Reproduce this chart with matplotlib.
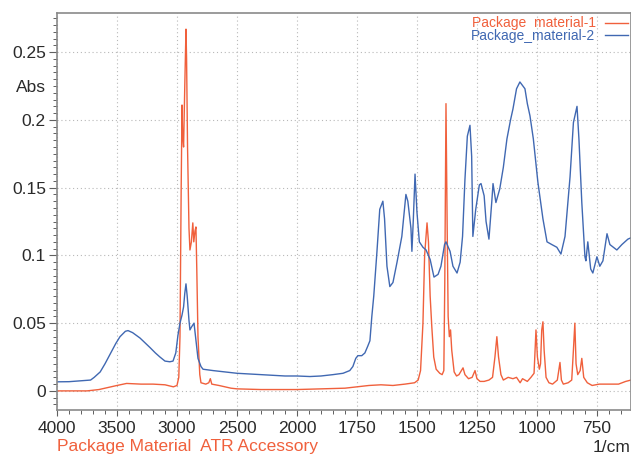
import numpy as np
import matplotlib
matplotlib.use("Agg")
import matplotlib.pyplot as plt
from matplotlib.ticker import FixedLocator, FixedFormatter

plt.rcParams["font.family"] = ["Liberation Sans", "DejaVu Sans"]

# spectrum 1 (orange) : wavenumber [1/cm], absorbance
wn_1 = [4000, 3900, 3750, 3650, 3600, 3500, 3420, 3300, 3200, 3100, 3030, 3000,
        2985, 2975, 2965, 2958, 2953, 2945, 2935, 2925, 2920, 2912, 2900, 2892,
        2880, 2868, 2860, 2850, 2842, 2835, 2825, 2810, 2800, 2760, 2735, 2722,
        2710, 2650, 2600, 2550, 2500, 2300, 2000, 1900, 1800, 1750, 1700, 1650,
        1600, 1550, 1510, 1495, 1485, 1475, 1468, 1458, 1452, 1445, 1438, 1430,
        1420, 1405, 1395, 1388, 1384, 1379, 1374, 1370, 1365, 1360, 1355, 1345,
        1335, 1325, 1308, 1300, 1285, 1270, 1258, 1250, 1237, 1220, 1200, 1185,
        1175, 1167, 1160, 1150, 1140, 1120, 1100, 1085, 1070, 1060, 1040, 1025,
        1012, 1004, 998, 990, 985, 980, 975, 970, 962, 950, 935, 915, 904, 898,
        890, 870, 855, 848, 842, 837, 830, 820, 813, 805, 790, 770, 740, 700,
        660, 630, 608]
abs_1 = [0.000, 0.000, 0.000, 0.001, 0.002, 0.004, 0.0055, 0.005, 0.005, 0.0045, 0.003, 0.004,
         0.010, 0.040, 0.150, 0.211, 0.188, 0.180, 0.225, 0.267, 0.245, 0.180, 0.120, 0.104,
         0.110, 0.124, 0.110, 0.118, 0.121, 0.090, 0.040, 0.012, 0.006, 0.005, 0.006, 0.009,
         0.005, 0.004, 0.003, 0.002, 0.0015, 0.001, 0.001, 0.0015, 0.002, 0.003, 0.004, 0.0045,
         0.004, 0.005, 0.006, 0.008, 0.015, 0.050, 0.100, 0.124, 0.110, 0.070, 0.047, 0.025,
         0.016, 0.013, 0.012, 0.015, 0.080, 0.212, 0.120, 0.055, 0.040, 0.045, 0.030, 0.014,
         0.011, 0.012, 0.017, 0.012, 0.009, 0.010, 0.015, 0.009, 0.007, 0.007, 0.008, 0.010,
         0.025, 0.040, 0.025, 0.012, 0.008, 0.010, 0.009, 0.010, 0.006, 0.009, 0.007, 0.010,
         0.013, 0.045, 0.025, 0.016, 0.020, 0.045, 0.051, 0.030, 0.010, 0.006, 0.005, 0.008, 0.021, 0.008,
         0.005, 0.006, 0.008, 0.030, 0.050, 0.020, 0.012, 0.015, 0.024, 0.010, 0.006, 0.004, 0.005, 0.005,
         0.005, 0.007, 0.008]

# spectrum 2 (blue)
wn_2 = [4000, 3900, 3800, 3720, 3690, 3640, 3600, 3558, 3510, 3475, 3430, 3408,
        3370, 3308, 3260, 3225, 3180, 3142, 3100, 3060, 3033, 3010, 2992, 2975,
        2958, 2945, 2935, 2925, 2915, 2900, 2892, 2880, 2858, 2845, 2825, 2800,
        2783, 2700, 2600, 2500, 2400, 2300, 2200, 2100, 2000, 1946, 1900, 1850,
        1808, 1780, 1767, 1755, 1746, 1730, 1717, 1705, 1696, 1688, 1680, 1667,
        1655, 1642, 1635, 1625, 1613, 1600, 1583, 1563, 1546, 1538, 1525, 1521,
        1515, 1508, 1500, 1490, 1475, 1462, 1445, 1429, 1412, 1400, 1385, 1379,
        1362, 1350, 1333, 1320, 1310, 1300, 1290, 1279, 1272, 1267, 1255, 1240,
        1233, 1220, 1212, 1200, 1188, 1183, 1171, 1155, 1140, 1125, 1110, 1100,
        1085, 1071, 1050, 1040, 1029, 1015, 996, 975, 958, 938, 917, 900, 883,
        862, 848, 833, 825, 813, 800, 796, 788, 776, 767, 750, 738, 725, 708,
        696, 667, 646, 621, 608]
abs_2 = [0.0067, 0.0068, 0.0075, 0.008, 0.010, 0.014, 0.020, 0.027, 0.035, 0.040, 0.044, 0.0445,
         0.043, 0.039, 0.035, 0.032, 0.028, 0.025, 0.022, 0.0215, 0.022, 0.028, 0.041, 0.050,
         0.056, 0.062, 0.072, 0.079, 0.070, 0.052, 0.045, 0.047, 0.050, 0.040, 0.024, 0.018,
         0.016, 0.015, 0.014, 0.013, 0.0125, 0.012, 0.0115, 0.011, 0.011, 0.0106, 0.011, 0.012,
         0.013, 0.015, 0.018, 0.024, 0.026, 0.026, 0.028, 0.033, 0.037, 0.055, 0.070, 0.102,
         0.134, 0.140, 0.127, 0.092, 0.077, 0.080, 0.095, 0.114, 0.145, 0.140, 0.120, 0.103,
         0.127, 0.160, 0.132, 0.110, 0.106, 0.104, 0.097, 0.084, 0.086, 0.092, 0.108, 0.110,
         0.103, 0.092, 0.087, 0.095, 0.114, 0.156, 0.188, 0.196, 0.173, 0.114, 0.134, 0.152,
         0.153, 0.144, 0.125, 0.112, 0.140, 0.153, 0.139, 0.149, 0.165, 0.186, 0.200, 0.208,
         0.223, 0.228, 0.223, 0.212, 0.203, 0.186, 0.154, 0.127, 0.110, 0.108, 0.106, 0.101, 0.114,
         0.158, 0.198, 0.210, 0.186, 0.139, 0.099, 0.096, 0.110, 0.090, 0.087, 0.099, 0.092, 0.096, 0.116,
         0.108, 0.104, 0.108, 0.112, 0.113]

labels = ["Package  material-1", "Package_material-2"]
colors = ["#f0603c", "#4068b2"]
x_major = [4000, 3500, 3000, 2500, 2000, 1750, 1500, 1250, 1000, 750]
y_major = [0, 0.05, 0.1, 0.15, 0.2, 0.25]
y_labels = ["0", "0.05", "0.1", "0.15", "0.2", "0.25"]


# the instrument compresses 4000-2000 by a factor of 2
def fwd(w):
    w = np.asarray(w, dtype=float)
    return np.where(w > 2000, 2000 + (w - 2000) / 2, w)


def inv(u):
    u = np.asarray(u, dtype=float)
    return np.where(u > 2000, 2000 + (u - 2000) * 2, u)


fig = plt.figure(figsize=(6.31, 4.55), dpi=100)
ax = fig.add_axes([57 / 631, 45 / 455, 574 / 631, 397 / 455])
ax.set_xscale("function", functions=(fwd, inv))

ax.plot(wn_1, abs_1, color=colors[0], lw=1.0, label=labels[0])
ax.plot(wn_2, abs_2, color=colors[1], lw=1.0, label=labels[1])

ax.set_xlim(4000, 608)
ax.set_ylim(-0.0141, 0.2789)

ax.xaxis.set_major_locator(FixedLocator(x_major))
ax.xaxis.set_major_formatter(FixedFormatter([str(v) for v in x_major]))
x_minor = list(range(4000, 2000, -100)) + list(range(2000, 600, -50))
ax.xaxis.set_minor_locator(FixedLocator(x_minor))
ax.xaxis.set_minor_formatter(FixedFormatter([""] * len(x_minor)))

ax.yaxis.set_major_locator(FixedLocator(y_major))
ax.yaxis.set_major_formatter(FixedFormatter(y_labels))
ax.yaxis.set_minor_locator(FixedLocator(np.arange(-0.01, 0.28, 0.005)))

ax.tick_params(which="major", direction="out", length=6, width=0.8,
               color="#606060", labelsize=12.5, labelcolor="#2a2a2a")
ax.tick_params(which="minor", direction="out", length=3, width=0.7, color="#606060")
ax.tick_params(axis="x", which="major", length=4, pad=4)
ax.tick_params(axis="y", which="major", pad=2)

ax.grid(which="major", color="#b8b8b8", linestyle=(0, (1, 2.5)), linewidth=0.8)
for side in ax.spines.values():
    side.set_color("#8a8a8a")
    side.set_linewidth(1.2)

ax.legend(loc="upper right", frameon=False, markerfirst=False, fontsize=10,
          handlelength=1.6, handletextpad=0.7, labelspacing=-0.1,
          borderaxespad=0.2, borderpad=0.05, labelcolor="linecolor")

fig.text(46 / 631, 1 - 88 / 455, "Abs", ha="right", va="center",
         fontsize=12.5, color="#2a2a2a")
fig.text(57 / 631, 1 - 446 / 455, "Package Material  ATR Accessory",
         ha="left", va="center", fontsize=12.5, color=colors[0])
fig.text(631 / 631, 1 - 447 / 455, "1/cm", ha="right", va="center",
         fontsize=12.5, color="#2a2a2a")

fig.savefig("out.png", dpi=100)
